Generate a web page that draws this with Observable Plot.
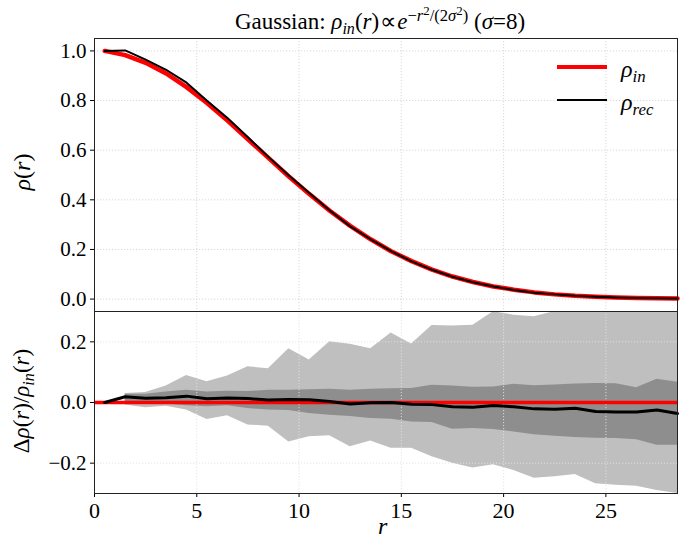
<!DOCTYPE html>
<html>
<head>
<meta charset="utf-8">
<script src="https://cdn.jsdelivr.net/npm/d3@7"></script>
<script src="https://cdn.jsdelivr.net/npm/@observablehq/plot@0.6"></script>
<style>
  body { margin: 0; background: #fff; }
  #wrap { position: relative; width: 686px; height: 540px; font-family: "Liberation Serif", "Times New Roman", serif; color: #000; overflow: hidden; }
  .abs { position: absolute; white-space: nowrap; font-family: "Liberation Serif", serif; }
  .sub { font-size: 70%; position: relative; top: 0.3em; line-height: 0; }
  .sup { font-size: 72%; position: relative; top: -0.5em; line-height: 0; }
  .sup .sup { top: -0.45em; font-size: 78%; }
  #wrap svg { position: absolute; left: 0; overflow: visible; }
  #wrap svg, #wrap svg text, #wrap svg g { font-family: "Liberation Serif", serif !important; }
</style>
</head>
<body>
<div id="wrap"></div>
<script>
// ---- data ----
const r = [0.5, 1.5, 2.5, 3.5, 4.5, 5.5, 6.5, 7.5, 8.5, 9.5, 10.5, 11.5, 12.5, 13.5, 14.5,
           15.5, 16.5, 17.5, 18.5, 19.5, 20.5, 21.5, 22.5, 23.5, 24.5, 25.5, 26.5, 27.5, 28.5];
const rhoIn = [1.000, 0.983, 0.952, 0.909, 0.854, 0.790, 0.719, 0.644, 0.569, 0.494, 0.423, 0.356, 0.295, 0.241, 0.193,
               0.153, 0.119, 0.091, 0.069, 0.051, 0.038, 0.027, 0.019, 0.013, 0.009, 0.006, 0.004, 0.003, 0.002];
const rhoRec = [1.000, 1.002, 0.965, 0.924, 0.872, 0.799, 0.730, 0.652, 0.573, 0.498, 0.427, 0.357, 0.293, 0.241, 0.193,
                0.152, 0.118, 0.090, 0.068, 0.051, 0.037, 0.026, 0.019, 0.013, 0.009, 0.006, 0.004, 0.003, 0.002];
const delta = [0.000, 0.019, 0.014, 0.016, 0.021, 0.012, 0.015, 0.013, 0.008, 0.010, 0.009, 0.003, -0.005, -0.001, 0.000,
               -0.006, -0.007, -0.014, -0.016, -0.010, -0.014, -0.021, -0.022, -0.019, -0.030, -0.031, -0.031, -0.025, -0.036];
const hi95 = [null, 0.030, 0.033, 0.054, 0.089, 0.068, 0.087, 0.118, 0.111, 0.177, 0.140, 0.200, 0.192, 0.177, 0.229,
              0.193, 0.254, 0.252, 0.255, 0.299, 0.288, 0.283, 0.305, 0.320, 0.330, 0.340, 0.340, 0.350, 0.360];
const lo95 = [null, -0.008, -0.017, -0.012, -0.025, -0.056, -0.044, -0.074, -0.078, -0.130, -0.113, -0.110, -0.146, -0.127, -0.151,
              -0.151, -0.179, -0.200, -0.216, -0.205, -0.224, -0.250, -0.245, -0.237, -0.268, -0.273, -0.276, -0.290, -0.320];
const hi68 = [null, 0.027, 0.027, 0.035, 0.040, 0.035, 0.037, 0.036, 0.040, 0.040, 0.042, 0.044, 0.040, 0.044, 0.045,
              0.046, 0.057, 0.054, 0.050, 0.051, 0.060, 0.055, 0.058, 0.061, 0.063, 0.062, 0.049, 0.077, 0.067];
const lo68 = [null, -0.002, -0.005, -0.005, -0.011, -0.014, -0.011, -0.020, -0.025, -0.026, -0.036, -0.042, -0.046, -0.053, -0.055,
              -0.064, -0.066, -0.088, -0.086, -0.089, -0.097, -0.106, -0.111, -0.115, -0.118, -0.119, -0.123, -0.141, -0.141];
const xTicks = [0, 5, 10, 15, 20, 25];
const yTicksTop = [0.0, 0.2, 0.4, 0.6, 0.8, 1.0];
const yTicksBottom = [-0.2, 0.0, 0.2];
const xDomain = [0, 28.5];
const yDomainTop = [-0.05, 1.05];
const yDomainBottom = [-0.3, 0.3];

const rows = r.map((v, i) => ({r: v, rin: rhoIn[i], rrec: rhoRec[i], d: delta[i],
  hi95: hi95[i], lo95: lo95[i], hi68: hi68[i], lo68: lo68[i]}));

const FONT = "'Liberation Serif', serif";
const gridOpts = {stroke: "#d4d4d4", strokeOpacity: 1, strokeWidth: 0.9, strokeDasharray: "1.2,1.8"};
const gridOptsBand = {stroke: "#e2e2e2", strokeOpacity: 1, strokeWidth: 0.9, strokeDasharray: "1.2,1.8"};

const wrap = document.getElementById("wrap");

// ---- top panel ----
const topPanel = Plot.plot({
  width: 686, height: 312,
  marginTop: 38, marginBottom: 1, marginLeft: 94, marginRight: 9,
  style: {fontFamily: FONT, fontSize: "20px", color: "#000", background: "transparent"},
  x: {domain: xDomain, axis: null},
  y: {domain: yDomainTop},
  marks: [
    Plot.gridX(xTicks, gridOpts),
    Plot.gridY(yTicksTop, gridOpts),
    Plot.line(rows, {x: "r", y: "rin", stroke: "#ff0000", strokeWidth: 4.5}),
    Plot.line(rows, {x: "r", y: "rrec", stroke: "#000", strokeWidth: 2}),
    Plot.axisY(yTicksTop, {tickFormat: d3.format(".1f"), tickSize: 4, tickPadding: 4, label: null, fontSize: 21, stroke: "#000"}),
    Plot.frame({stroke: "#222", strokeWidth: 1})
  ]
});
topPanel.style.top = "0px";
wrap.appendChild(topPanel);

// ---- bottom panel ----
const bottomPanel = Plot.plot({
  width: 686, height: 240,
  marginTop: 11, marginBottom: 47, marginLeft: 94, marginRight: 9,
  style: {fontFamily: FONT, fontSize: "20px", color: "#000", background: "transparent"},
  x: {domain: xDomain},
  y: {domain: yDomainBottom, clamp: true},
  marks: [
    Plot.areaY(rows, {x: "r", y1: "lo95", y2: "hi95", fill: "#bfbfbf", clip: true}),
    Plot.areaY(rows, {x: "r", y1: "lo68", y2: "hi68", fill: "#8e8e8e", clip: true}),
    Plot.gridX(xTicks, gridOptsBand),
    Plot.gridY(yTicksBottom, gridOptsBand),
    Plot.ruleY([0], {stroke: "#ff0000", strokeWidth: 3.5}),
    Plot.line(rows, {x: "r", y: "d", stroke: "#000", strokeWidth: 3}),
    Plot.axisY(yTicksBottom, {tickFormat: d3.format(".1f"), tickSize: 4, tickPadding: 4, label: null, fontSize: 21, stroke: "#000"}),
    Plot.axisX(xTicks, {tickFormat: d3.format("d"), tickSize: 4, tickPadding: 5, label: null, fontSize: 22, stroke: "#000"}),
    Plot.frame({stroke: "#222", strokeWidth: 1})
  ]
});
bottomPanel.style.top = "300px";
wrap.appendChild(bottomPanel);

// ---- text overlays ----
function addDiv(html, css) {
  const d = document.createElement("div");
  d.className = "abs";
  d.innerHTML = html;
  Object.assign(d.style, css);
  wrap.appendChild(d);
  return d;
}
// title
addDiv('Gaussian: <i>ρ<span class="sub">in</span></i>(<i>r</i>)<span style="margin:0 1px">∝</span><i>e</i><span class="sup">−<i>r</i><span class="sup">2</span>/(2<i>σ</i><span class="sup">2</span>)</span> (<i>σ</i>=8)',
  {left: "180px", width: "400px", textAlign: "center", top: "10px", fontSize: "23px", lineHeight: "24px"});
// y label top
addDiv('<i>ρ</i>(<i>r</i>)', {left: "22px", top: "172px", fontSize: "24px", lineHeight: "24px",
  transform: "translate(-50%,-50%) rotate(-90deg)"});
// y label bottom
addDiv('Δ<i>ρ</i>(<i>r</i>)/<i>ρ<span class="sub">in</span></i>(<i>r</i>)', {left: "22px", top: "401px", fontSize: "23px", lineHeight: "24px",
  transform: "translate(-50%,-50%) rotate(-90deg)"});
// x label
addDiv('<i>r</i>', {left: "378px", top: "516px", fontSize: "24px", lineHeight: "20px"});

// legend
addDiv('', {left: "557px", top: "64.5px", width: "50px", height: "4.5px", background: "#ff0000"});
addDiv('', {left: "557px", top: "99px", width: "50px", height: "2px", background: "#000"});
addDiv('<i>ρ<span class="sub">in</span></i>', {left: "621px", top: "57px", fontSize: "24px", lineHeight: "24px"});
addDiv('<i>ρ<span class="sub">rec</span></i>', {left: "621px", top: "90px", fontSize: "24px", lineHeight: "24px"});
</script>
</body>
</html>
